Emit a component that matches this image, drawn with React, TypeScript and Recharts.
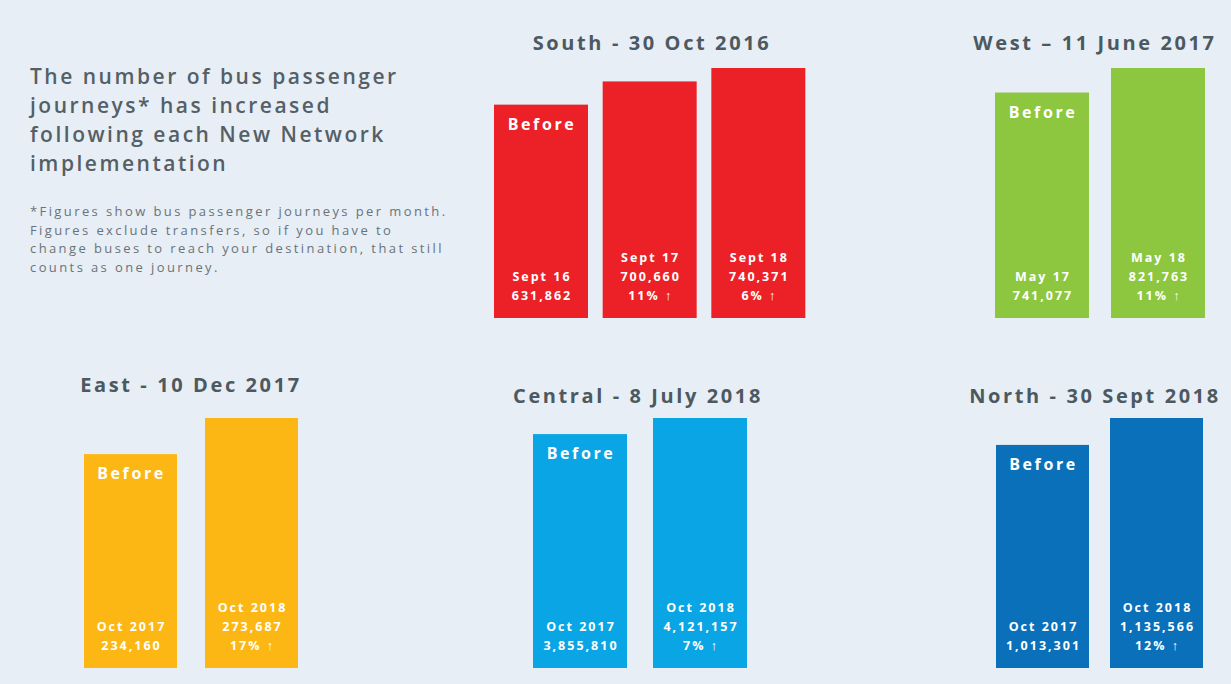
import React from "react";
import { BarChart, Bar, XAxis, YAxis } from "recharts";

// bus passenger journeys per month, before / after each New Network
const southPeriods = ["Sept 16", "Sept 17", "Sept 18"];
const southJourneys = [631862, 700660, 740371];
const southChange = ["", "11%", "6%"];

const westPeriods = ["May 17", "May 18"];
const westJourneys = [741077, 821763];
const westChange = ["", "11%"];

const eastPeriods = ["Oct 2017", "Oct 2018"];
const eastJourneys = [234160, 273687];
const eastChange = ["", "17%"];

const centralPeriods = ["Oct 2017", "Oct 2018"];
const centralJourneys = [3855810, 4121157];
const centralChange = ["", "7%"];

const northPeriods = ["Oct 2017", "Oct 2018"];
const northJourneys = [1013301, 1135566];
const northChange = ["", "12%"];

const headingLines = [
  "The number of bus passenger",
  "journeys* has increased",
  "following each New Network",
  "implementation",
];
const noteLines = [
  "*Figures show bus passenger journeys per month.",
  "Figures exclude transfers, so if you have to",
  "change buses to reach your destination, that still",
  "counts as one journey.",
];

const FONT = "'Open Sans', sans-serif";
const BAR_AREA = 250; // px for the tallest bar in each panel

const fmt = (n: number) => n.toLocaleString("en-US");

const BarWithText = (props: any) => {
  const { x, y, width, height, fill, payload, index } = props;
  const cx = x + width / 2;
  const lines = [payload.period, fmt(payload.journeys)];
  if (payload.change) lines.push(payload.change + " \u2191");
  const bottom = y + height;
  return (
    <g>
      <rect x={x} y={y} width={width} height={height} fill={fill} />
      {index === 0 && (
        <text
          x={cx + 1}
          y={y + 25}
          textAnchor="middle"
          fill="#fff"
          fontFamily={FONT}
          fontWeight={700}
          fontSize={16}
          letterSpacing={2.6}
        >
          Before
        </text>
      )}
      {lines.map((t, i) => (
        <text
          key={i}
          x={cx + 1}
          y={bottom - 18 - (lines.length - 1 - i) * 19}
          textAnchor="middle"
          fill="#fff"
          fontFamily={FONT}
          fontWeight={700}
          fontSize={12.5}
          letterSpacing={2}
        >
          {t}
        </text>
      ))}
    </g>
  );
};

type PanelProps = {
  title: string;
  titleCx: number;
  titleCy: number;
  left: number;
  bottom: number;
  width: number;
  barSize: number;
  color: string;
  periods: string[];
  journeys: number[];
  changes: string[];
};

const Panel = (p: PanelProps) => {
  const data = p.periods.map((period, i) => ({
    period,
    journeys: p.journeys[i],
    change: p.changes[i],
  }));
  return (
    <>
      <div
        style={{
          position: "absolute",
          left: p.titleCx - 200,
          top: p.titleCy - 14,
          width: 400,
          textAlign: "center",
          fontFamily: FONT,
          fontWeight: 700,
          fontSize: 20,
          letterSpacing: 2.6,
          color: "#4d5960",
          lineHeight: "28px",
        }}
      >
        {p.title}
      </div>
      <div style={{ position: "absolute", left: p.left, top: p.bottom - BAR_AREA }}>
        <BarChart
          width={p.width}
          height={BAR_AREA}
          data={data}
          margin={{ top: 0, right: 0, bottom: 0, left: 0 }}
        >
          <XAxis dataKey="period" hide />
          <YAxis hide domain={[0, "dataMax"]} />
          <Bar
            dataKey="journeys"
            fill={p.color}
            barSize={p.barSize}
            shape={BarWithText}
            isAnimationActive={false}
          />
        </BarChart>
      </div>
    </>
  );
};

export default function App() {
  return (
    <div
      style={{
        position: "absolute",
        top: 0,
        left: 0,
        width: 1231,
        height: 684,
        background: "#e7eef5",
        overflow: "hidden",
      }}
    >
      <div
        style={{
          position: "absolute",
          left: 30,
          top: 62,
          width: 440,
          fontFamily: FONT,
          fontWeight: 600,
          fontSize: 21,
          lineHeight: "29px",
          letterSpacing: 2.5,
          color: "#555f66",
          whiteSpace: "nowrap",
        }}
      >
        {headingLines.map((l) => (
          <div key={l}>{l}</div>
        ))}
      </div>
      <div
        style={{
          position: "absolute",
          left: 30,
          top: 202,
          width: 440,
          fontFamily: FONT,
          fontSize: 13,
          lineHeight: "18.5px",
          letterSpacing: 2.4,
          color: "#6a7379",
          whiteSpace: "nowrap",
        }}
      >
        {noteLines.map((l) => (
          <div key={l}>{l}</div>
        ))}
      </div>

      <Panel
        title="South - 30 Oct 2016"
        titleCx={652}
        titleCy={43}
        left={487}
        bottom={318}
        width={326}
        barSize={94}
        color="#ec2127"
        periods={southPeriods}
        journeys={southJourneys}
        changes={southChange}
      />
      <Panel
        title="West – 11 June 2017"
        titleCx={1095}
        titleCy={43}
        left={984}
        bottom={318}
        width={232}
        barSize={94}
        color="#8dc63f"
        periods={westPeriods}
        journeys={westJourneys}
        changes={westChange}
      />
      <Panel
        title="East - 10 Dec 2017"
        titleCx={191}
        titleCy={385}
        left={70}
        bottom={668}
        width={242}
        barSize={93}
        color="#fdb714"
        periods={eastPeriods}
        journeys={eastJourneys}
        changes={eastChange}
      />
      <Panel
        title="Central - 8 July 2018"
        titleCx={638}
        titleCy={396}
        left={520}
        bottom={668}
        width={240}
        barSize={94}
        color="#0aa5e4"
        periods={centralPeriods}
        journeys={centralJourneys}
        changes={centralChange}
      />
      <Panel
        title="North - 30 Sept 2018"
        titleCx={1095}
        titleCy={396}
        left={985}
        bottom={668}
        width={228}
        barSize={93}
        color="#0a70b9"
        periods={northPeriods}
        journeys={northJourneys}
        changes={northChange}
      />
    </div>
  );
}
